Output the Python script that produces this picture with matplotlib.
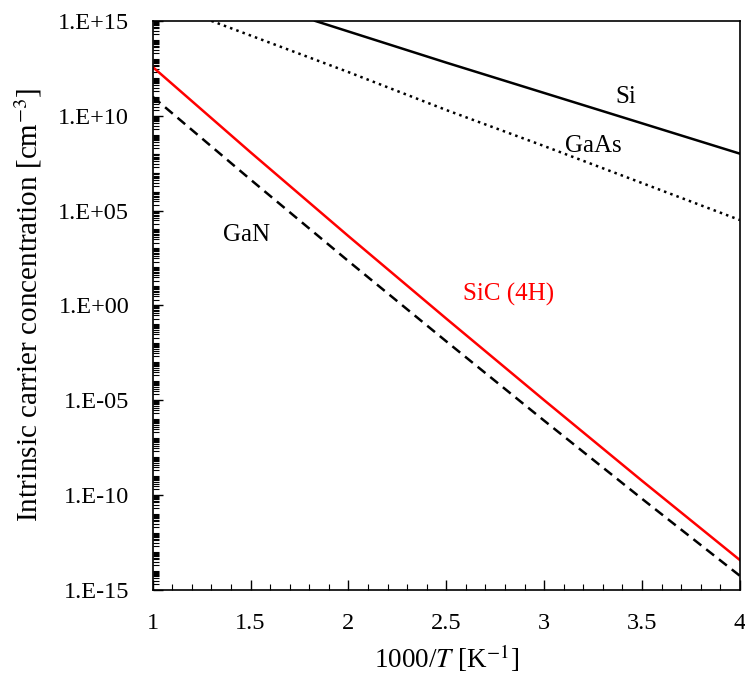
import numpy as np
from matplotlib import pyplot as plt
import matplotlib.ticker as mticker

plt.rcParams['font.family'] = ['Liberation Serif', 'DejaVu Serif']
plt.rcParams['mathtext.fontset'] = 'stix'

# values (log10 of n_i in cm^-3)
si_x = [1.83, 2.5, 3.0, 3.5, 4.0]
si_log = [15.0, 12.8, 11.2, 9.6, 8.0]

gaas_x = [1.30, 2.0, 2.5, 3.0, 3.5, 4.0]
gaas_log = [15.0, 12.3, 10.3, 8.4, 6.45, 4.5]

sic_x = [1.0, 1.5, 2.0, 2.5, 3.0, 3.5, 4.0]
sic_log = [12.57, 8.07, 3.65, -0.70, -5.0, -9.25, -13.43]

gan_x = [1.0, 1.5, 2.0, 2.5, 3.0, 3.5, 4.0]
gan_log = [11.0, 6.63, 2.33, -1.9, -6.08, -10.2, -14.26]

fig = plt.figure(figsize=(7.45, 6.74), dpi=100)
ax = fig.add_axes([0.205, 0.125, 0.788, 0.844])

ax.plot(si_x, 10.0 ** np.array(si_log), 'k-', lw=1.8)
ax.plot(gaas_x, 10.0 ** np.array(gaas_log), 'k:', lw=1.8)
ax.plot(sic_x, 10.0 ** np.array(sic_log), '-', color='#ff0000', lw=1.8)
ax.plot(gan_x, 10.0 ** np.array(gan_log), 'k--', lw=1.8, dashes=(4, 2.5))

ax.set_yscale('log')
ax.set_xlim(1, 4)
ax.set_ylim(1e-15, 1e15)

ax.yaxis.set_major_locator(mticker.FixedLocator([10.0 ** e for e in range(-15, 16, 5)]))
ax.yaxis.set_major_formatter(mticker.FuncFormatter(lambda v, p: '1.E%+03d' % int(round(np.log10(v)))))
ax.yaxis.set_minor_locator(mticker.LogLocator(base=10, subs=np.arange(1, 10), numticks=100))
ax.yaxis.set_minor_formatter(mticker.NullFormatter())

ax.xaxis.set_major_locator(mticker.MultipleLocator(0.5))
ax.xaxis.set_minor_locator(mticker.MultipleLocator(0.1))
ax.xaxis.set_major_formatter(mticker.FuncFormatter(lambda v, p: ('%g' % v)))

ax.tick_params(which='both', direction='in', top=False, right=False, labelsize=17.5)
ax.tick_params(which='major', length=7, width=1)
ax.tick_params(which='minor', length=4, width=0.8)
ax.tick_params(axis='x', pad=17)
ax.tick_params(axis='y', pad=17)
for s in ax.spines.values():
    s.set_linewidth(1.2)

ax.set_xlabel('1000/$T$ [K$^{-1}$]', fontsize=19.5, labelpad=6)
ax.set_ylabel('Intrinsic carrier concentration [cm$^{-3}$]', fontsize=21, labelpad=10)

ax.text(3.42, 10 ** 11.0, 'Si', fontsize=18, ha='center', va='center')
ax.text(3.25, 10 ** 8.4, 'GaAs', fontsize=18, ha='center', va='center')
ax.text(1.48, 10 ** 3.73, 'GaN', fontsize=18, ha='center', va='center')
ax.text(2.82, 10 ** 0.55, 'SiC (4H)', fontsize=18, ha='center', va='center', color='#ff0000')

plt.savefig('out.png', dpi=100)
